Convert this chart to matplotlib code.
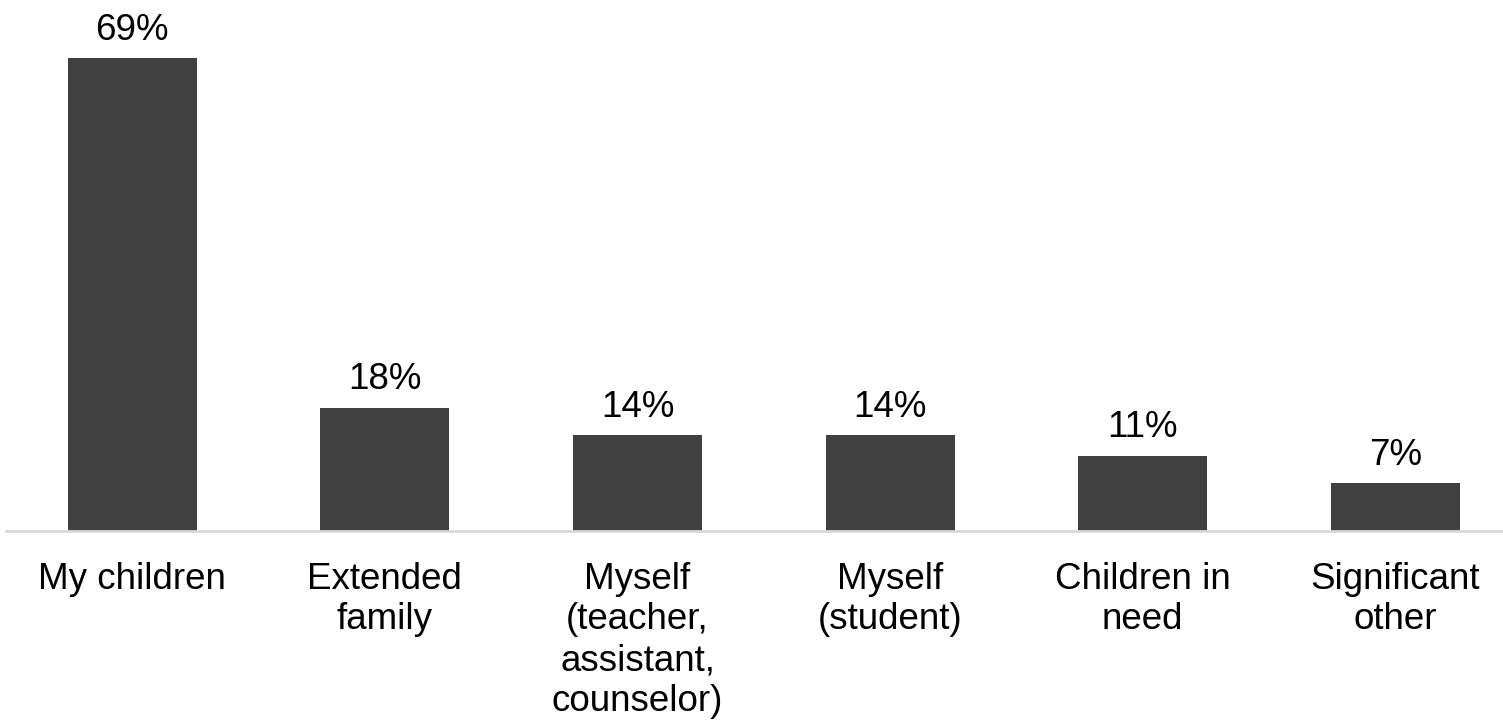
import matplotlib
matplotlib.use("Agg")
import matplotlib.pyplot as plt

plt.rcParams['font.family'] = ['Liberation Sans', 'DejaVu Sans']

categories = [
    "My children",
    "Extended\nfamily",
    "Myself\n(teacher,\nassistant,\ncounselor)",
    "Myself\n(student)",
    "Children in\nneed",
    "Significant\nother",
]
values = [69, 18, 14, 14, 11, 7]

W, H, DPI = 1503, 724, 100
fig = plt.figure(figsize=(W / DPI, H / DPI), dpi=DPI)

step_px = 252.6
left_px = 6
base_px = 193
px_per_unit = 6.855
ymax = 75
ax = fig.add_axes([left_px / W, base_px / H, (W - left_px) / W, ymax * px_per_unit / H])

x = list(range(len(categories)))
ax.bar(x, values, width=0.51, color="#404040", zorder=2)
ax.set_xlim(-0.5, -0.5 + (W - left_px) / step_px)
ax.set_ylim(0, ymax)

for xi, v in zip(x, values):
    ax.annotate(f"{v}%", (xi, v), xytext=(0, 13.2), textcoords="offset points",
                ha="center", va="baseline", fontsize=26.5, color="black")

for s in ["top", "right", "left"]:
    ax.spines[s].set_visible(False)
ax.spines["bottom"].set_color("#d9d9d9")
ax.spines["bottom"].set_linewidth(2)
ax.set_yticks([])
ax.set_xticks(x)
ax.set_xticklabels(categories, fontsize=26.5, linespacing=1.22, color="black")
ax.tick_params(axis="x", length=0, pad=22)

fig.savefig("out.png", dpi=DPI)
